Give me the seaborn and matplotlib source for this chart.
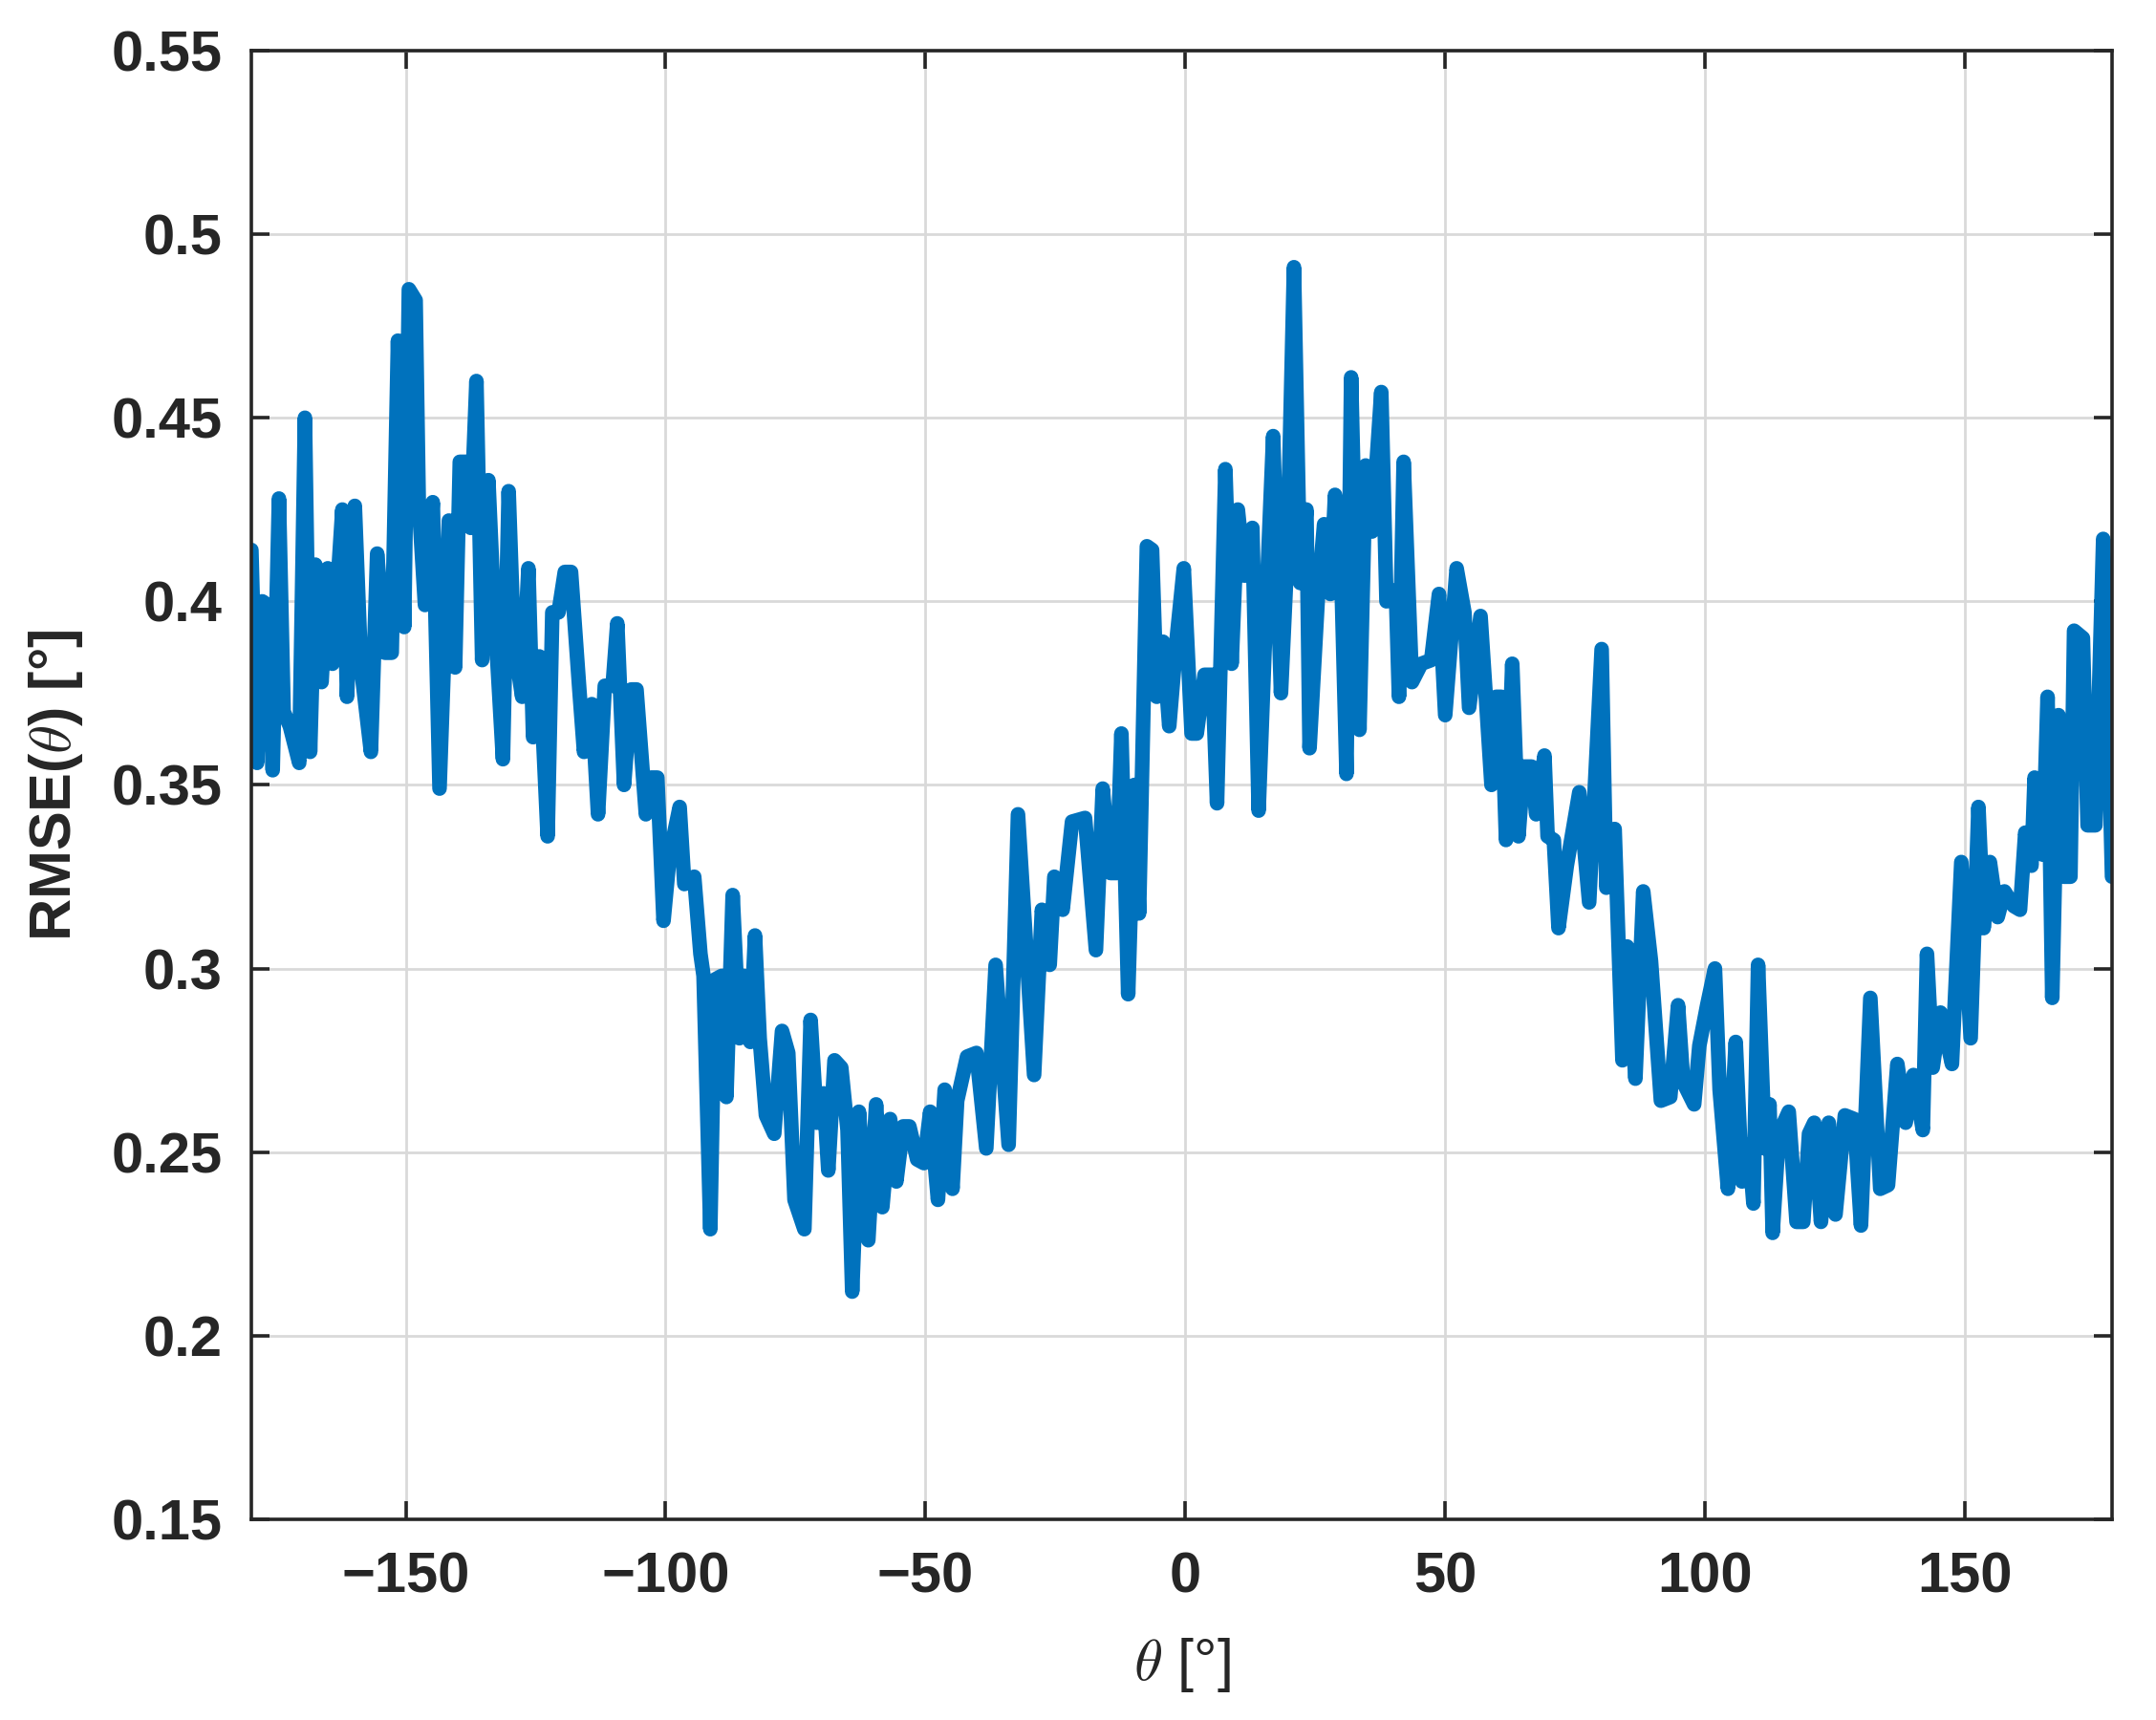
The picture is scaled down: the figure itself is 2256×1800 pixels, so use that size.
import numpy as np
import pandas as pd
import seaborn as sns
import matplotlib.pyplot as plt

# angle in degrees
theta = [
    -179.7, -178.6, -177.6, -176.6, -175.6, -174.4, -173.5, -172.3, -170.5, -169.4,
    -168.4, -167.4, -166.2, -165.0, -164.1, -162.2, -161.3, -159.8, -158.6, -156.7,
    -155.5, -154.0, -152.7, -151.5, -150.3, -149.4, -148.1, -147.5, -146.3, -144.8,
    -143.5, -141.7, -140.5, -139.6, -138.3, -137.5, -136.4, -135.3, -134.1, -133.2,
    -131.3, -130.2, -129.2, -127.6, -126.4, -125.5, -124.3, -122.7, -121.8, -120.6,
    -119.4, -118.2, -116.6, -115.7, -114.2, -113.0, -111.7, -110.2, -109.3, -108.0,
    -106.6, -105.6, -103.8, -102.8, -101.6, -100.4, -99.2, -97.3, -96.4, -94.5,
    -93.3, -92.7, -91.4, -90.5, -89.2, -88.3, -87.1, -85.8, -84.9, -83.7,
    -82.8, -81.9, -80.7, -79.1, -77.6, -76.4, -75.2, -73.3, -72.1, -70.9,
    -69.6, -68.7, -67.5, -66.2, -65.0, -64.1, -62.8, -61.0, -59.5, -58.3,
    -56.8, -55.6, -54.3, -53.1, -51.6, -50.3, -49.1, -47.6, -46.3, -44.8,
    -43.9, -42.0, -40.2, -38.3, -36.5, -34.0, -32.2, -29.1, -27.6, -26.1,
    -25.2, -23.6, -21.8, -19.3, -17.2, -15.9, -14.4, -13.2, -12.3, -11.0,
    -9.8, -8.9, -7.4, -6.4, -5.5, -4.3, -3.1, -1.8, -0.3, 1.2,
    2.2, 3.7, 5.2, 6.1, 7.7, 8.9, 10.1, 11.4, 12.9, 14.1,
    15.7, 16.9, 18.4, 19.6, 20.9, 22.1, 23.3, 23.9, 25.5, 26.7,
    27.9, 28.8, 30.1, 31.0, 31.9, 33.5, 34.7, 35.9, 37.7, 38.7,
    40.5, 41.1, 42.0, 43.6, 45.4, 47.3, 48.8, 50.0, 52.2, 53.7,
    54.6, 56.8, 58.0, 58.9, 59.8, 60.8, 61.7, 62.9, 64.1, 65.1,
    66.6, 67.5, 69.1, 69.7, 70.9, 71.8, 73.4, 75.8, 77.7, 80.1,
    81.0, 82.6, 84.1, 85.0, 86.6, 88.1, 89.6, 91.5, 93.3, 94.8,
    95.8, 97.9, 98.9, 100.4, 101.9, 102.8, 104.4, 105.9, 107.1, 108.4,
    109.3, 110.2, 111.5, 112.4, 113.0, 114.2, 116.1, 117.6, 118.9, 120.0,
    121.0, 122.3, 123.8, 125.1, 126.9, 128.7, 130.0, 131.8, 133.7, 135.2,
    137.0, 138.6, 140.1, 141.9, 142.7, 143.8, 145.3, 147.5, 149.3, 151.1,
    152.6, 153.6, 154.8, 156.3, 157.6, 159.4, 160.6, 161.6, 162.8, 163.4,
    165.0, 165.9, 166.8, 168.0, 169.0, 170.3, 171.0, 172.7, 173.6, 175.1,
    176.6, 177.5, 178.3,
]

rmse = [
    0.414, 0.356, 0.400, 0.399, 0.354, 0.428, 0.370, 0.366, 0.356, 0.450,
    0.359, 0.410, 0.378, 0.409, 0.383, 0.425, 0.374, 0.426, 0.382, 0.359,
    0.413, 0.386, 0.386, 0.471, 0.393, 0.485, 0.482, 0.427, 0.399, 0.427,
    0.349, 0.422, 0.382, 0.438, 0.438, 0.420, 0.460, 0.384, 0.433, 0.404,
    0.357, 0.430, 0.389, 0.374, 0.409, 0.363, 0.385, 0.336, 0.397, 0.397,
    0.408, 0.408, 0.376, 0.359, 0.372, 0.342, 0.377, 0.377, 0.394, 0.350,
    0.376, 0.376, 0.342, 0.352, 0.352, 0.313, 0.331, 0.344, 0.323, 0.325,
    0.304, 0.298, 0.229, 0.297, 0.298, 0.265, 0.320, 0.281, 0.298, 0.280,
    0.309, 0.281, 0.260, 0.255, 0.283, 0.277, 0.237, 0.229, 0.286, 0.258,
    0.266, 0.245, 0.275, 0.273, 0.256, 0.212, 0.261, 0.226, 0.263, 0.235,
    0.259, 0.242, 0.257, 0.257, 0.248, 0.247, 0.261, 0.237, 0.267, 0.240,
    0.264, 0.276, 0.277, 0.251, 0.301, 0.252, 0.342, 0.271, 0.316, 0.301,
    0.325, 0.316, 0.340, 0.341, 0.305, 0.349, 0.326, 0.326, 0.364, 0.293,
    0.350, 0.315, 0.415, 0.414, 0.374, 0.389, 0.366, 0.388, 0.409, 0.364,
    0.364, 0.380, 0.380, 0.345, 0.436, 0.383, 0.425, 0.407, 0.420, 0.343,
    0.404, 0.445, 0.375, 0.412, 0.491, 0.405, 0.425, 0.360, 0.401, 0.421,
    0.402, 0.429, 0.402, 0.353, 0.461, 0.365, 0.437, 0.419, 0.457, 0.400,
    0.403, 0.374, 0.438, 0.378, 0.383, 0.384, 0.402, 0.369, 0.409, 0.397,
    0.371, 0.396, 0.370, 0.350, 0.374, 0.374, 0.335, 0.383, 0.336, 0.355,
    0.355, 0.342, 0.358, 0.336, 0.335, 0.311, 0.328, 0.348, 0.318, 0.387,
    0.322, 0.338, 0.275, 0.306, 0.270, 0.321, 0.302, 0.264, 0.265, 0.290,
    0.269, 0.263, 0.279, 0.290, 0.300, 0.267, 0.240, 0.280, 0.242, 0.252,
    0.236, 0.301, 0.251, 0.263, 0.228, 0.255, 0.261, 0.231, 0.231, 0.255,
    0.258, 0.231, 0.258, 0.233, 0.260, 0.259, 0.230, 0.292, 0.240, 0.241,
    0.274, 0.258, 0.271, 0.256, 0.304, 0.273, 0.288, 0.274, 0.329, 0.281,
    0.344, 0.311, 0.329, 0.314, 0.321, 0.317, 0.316, 0.337, 0.328, 0.352,
    0.331, 0.374, 0.292, 0.369, 0.325, 0.325, 0.392, 0.390, 0.339, 0.339,
    0.417, 0.372, 0.325,
]

x_ticks = [-150, -100, -50, 0, 50, 100, 150]
x_tick_labels = ['\u2212150', '\u2212100', '\u221250', '0', '50', '100', '150']
y_ticks = [0.15, 0.2, 0.25, 0.3, 0.35, 0.4, 0.45, 0.5, 0.55]
y_tick_labels = ['0.15', '0.2', '0.25', '0.3', '0.35', '0.4', '0.45', '0.5', '0.55']

sns.set_style("whitegrid")
plt.rcParams['font.family'] = ['Liberation Sans', 'DejaVu Sans']
plt.rcParams['mathtext.fontset'] = 'cm'

data = pd.DataFrame({'theta': theta, 'rmse': rmse})

dark = '#262626'
fig = plt.figure(figsize=(11.28, 9), dpi=200)
ax = fig.add_axes([0.1166, 0.1167, 0.8630, 0.8539])
sns.lineplot(x='theta', y='rmse', data=data, ax=ax, color='#0072BD',
             linewidth=5.5, errorbar=None)

ax.set_xlim(-179.7, 178.3)
ax.set_ylim(0.15, 0.55)
ax.set_xticks(x_ticks)
ax.set_xticklabels(x_tick_labels)
ax.set_yticks(y_ticks)
ax.set_yticklabels(y_tick_labels)

ax.grid(True, color='#d9d9d9', linewidth=1.0)
ax.set_axisbelow(True)
for side in ['left', 'right', 'top', 'bottom']:
    ax.spines[side].set_color(dark)
    ax.spines[side].set_linewidth(1.3)
    ax.spines[side].set_visible(True)

ax.tick_params(axis='both', direction='in', length=7, width=1.3, colors=dark,
               labelsize=21.5, top=True, right=True, bottom=True, left=True)
ax.tick_params(axis='x', pad=12)
ax.tick_params(axis='y', pad=11)
for lbl in ax.get_xticklabels() + ax.get_yticklabels():
    lbl.set_fontweight('bold')
    lbl.set_color(dark)

ax.set_xlabel(r'$\theta$ [°]', fontsize=22, color=dark, va='center')
ax.xaxis.set_label_coords(0.5, -0.0995)
ax.set_ylabel(r'RMSE($\theta$) [°]', fontsize=22, fontweight='bold', color=dark,
              va='center')
ax.yaxis.set_label_coords(-0.1053, 0.5)

fig.savefig('out.png', dpi=200)
